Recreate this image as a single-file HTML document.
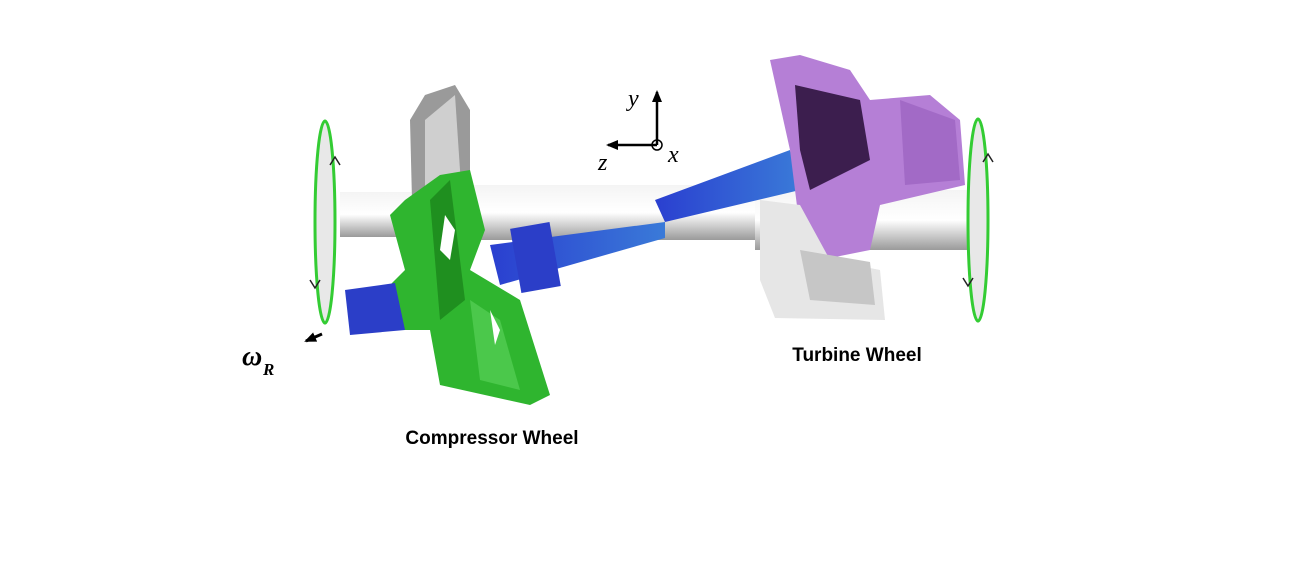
<!DOCTYPE html>
<html><head><style>
body{margin:0;background:#fff;width:1300px;height:570px;overflow:hidden}
svg{position:absolute;left:0;top:0}
</style></head><body>
<svg width="1300" height="570" viewBox="0 0 1300 570" font-family="Liberation Sans, sans-serif">
<defs>
<linearGradient id="sh" x1="0" y1="0" x2="0" y2="1"><stop offset="0" stop-color="#f4f4f4"/><stop offset="0.5" stop-color="#fff"/><stop offset="1" stop-color="#9a9a9a"/></linearGradient>
<linearGradient id="bl" x1="0" y1="0" x2="1" y2="0"><stop offset="0" stop-color="#2a3fd0"/><stop offset="1" stop-color="#3a7ad8"/></linearGradient>
<marker id="ah" markerUnits="userSpaceOnUse" markerWidth="12" markerHeight="10" refX="10" refY="5" orient="auto"><path d="M0,0 L12,5 L0,10 z" fill="#000"/></marker>
</defs>
<!-- shaft -->
<rect x="340" y="192" width="120" height="45" fill="url(#sh)"/>
<rect x="460" y="185" width="300" height="55" fill="url(#sh)"/>
<rect x="755" y="190" width="215" height="60" fill="url(#sh)"/>
<!-- compressor gray blades -->
<polygon points="410,120 425,95 455,85 470,110 470,250 420,250 412,200" fill="#9a9a9a"/>
<polygon points="425,120 455,95 462,200 440,240 425,220" fill="#cfcfcf"/>
<!-- blue shafts -->
<polygon points="490,245 665,222 665,238 500,285" fill="url(#bl)"/>
<polygon points="655,200 790,150 800,190 665,222" fill="url(#bl)"/>
<rect x="515" y="225" width="40" height="65" fill="#2b3ec8" transform="rotate(-10 535 255)"/>
<!-- green wheel -->
<polygon points="390,215 405,200 440,175 470,170 485,230 470,270 520,300 550,395 530,405 440,385 430,330 385,330 385,290 405,270" fill="#2fb52f"/>
<polygon points="430,200 450,180 465,300 440,320" fill="#1f8f1f"/>
<polygon points="470,300 500,320 520,390 480,380" fill="#4bc84b"/>
<polygon points="445,215 455,230 450,260 440,250" fill="#fff"/>
<polygon points="490,310 500,330 495,345" fill="#fff"/>
<!-- blue nose -->
<polygon points="345,290 395,283 405,330 350,335" fill="#2b3ec8"/>
<!-- turbine purple -->
<polygon points="770,60 800,55 850,70 870,100 930,95 960,120 965,185 880,205 870,250 820,260 800,230 790,150" fill="#b57fd6"/>
<polygon points="795,85 860,100 870,160 810,190 800,150" fill="#3c1e4e"/>
<polygon points="900,100 955,120 960,180 905,185" fill="#a26ac6"/>
<!-- turbine white lower -->
<polygon points="760,200 800,205 830,260 880,270 885,320 775,318 760,280" fill="#e6e6e6"/>
<polygon points="800,250 870,262 875,305 810,300" fill="#c6c6c6"/>
<!-- ellipses -->
<ellipse cx="325" cy="222" rx="10" ry="101" fill="#e8e8e8" stroke="#33cc33" stroke-width="3"/>
<ellipse cx="978" cy="220" rx="10" ry="101" fill="#e8e8e8" stroke="#33cc33" stroke-width="3"/>
<path d="M330,165 l5,-8 l5,8" fill="none" stroke="#222" stroke-width="1.5"/>
<path d="M310,280 l5,8 l5,-8" fill="none" stroke="#222" stroke-width="1.5"/>
<path d="M983,162 l5,-8 l5,8" fill="none" stroke="#222" stroke-width="1.5"/>
<path d="M963,278 l5,8 l5,-8" fill="none" stroke="#222" stroke-width="1.5"/>
<!-- omega arrow -->
<line x1="322" y1="334" x2="306" y2="341" stroke="#000" stroke-width="3" marker-end="url(#ah)"/>
<text x="242" y="365" font-family="Liberation Serif, serif" font-style="italic" font-weight="bold" font-size="28">ω</text>
<text x="263" y="375" font-family="Liberation Serif, serif" font-style="italic" font-weight="bold" font-size="17">R</text>
<!-- axes -->
<line x1="657" y1="145" x2="657" y2="92" stroke="#000" stroke-width="2.5" marker-end="url(#ah)"/>
<line x1="657" y1="145" x2="608" y2="145" stroke="#000" stroke-width="2.5" marker-end="url(#ah)"/>
<circle cx="657" cy="145" r="5" fill="none" stroke="#000" stroke-width="1.5"/>
<text x="628" y="106" font-family="Liberation Serif, serif" font-style="italic" font-size="24">y</text>
<text x="598" y="170" font-family="Liberation Serif, serif" font-style="italic" font-size="24">z</text>
<text x="668" y="162" font-family="Liberation Serif, serif" font-style="italic" font-size="24">x</text>
<text x="492" y="444" text-anchor="middle" font-weight="bold" font-size="19">Compressor Wheel</text>
<text x="857" y="361" text-anchor="middle" font-weight="bold" font-size="19">Turbine Wheel</text>
</svg>
</body></html>
